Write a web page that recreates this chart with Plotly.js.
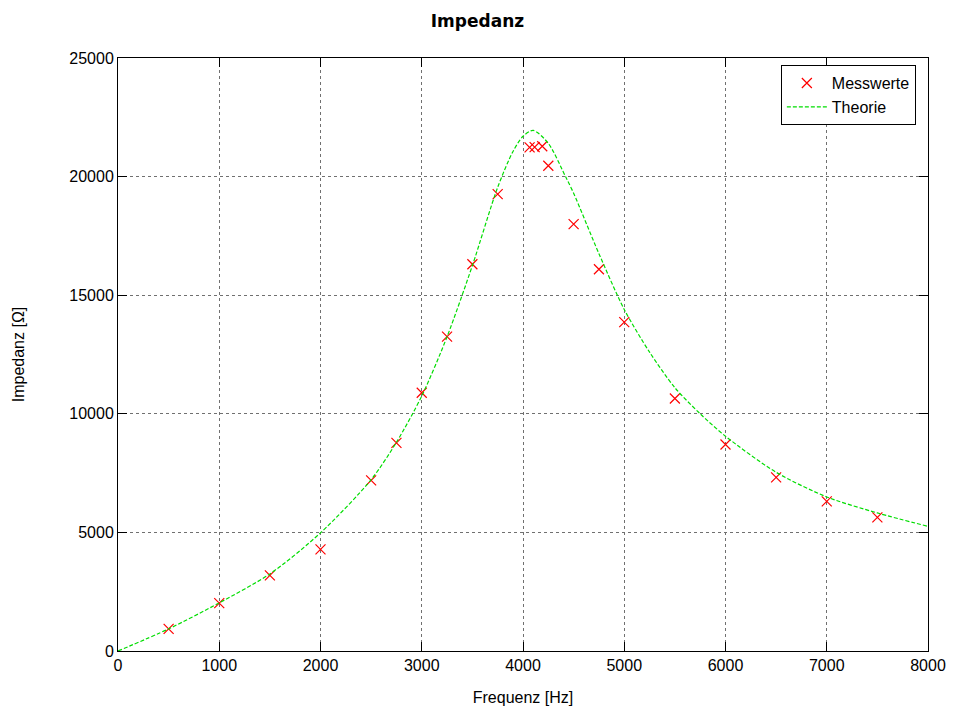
<!DOCTYPE html>
<html>
<head>
<meta charset="utf-8">
<script src="https://cdn.plot.ly/plotly-3.0.1.min.js"></script>
<style>
html,body{margin:0;padding:0;background:#fff;}
#chart{width:955px;height:711px;}
</style>
</head>
<body>
<div id="chart"></div>
<script>
// Measured values (Messwerte)
var measFreq = [500, 1000, 1500, 2000, 2500, 2750, 3000, 3250, 3500, 3750, 4065, 4115, 4190, 4250, 4500, 4750, 5000, 5500, 6000, 6500, 7000, 7500];
var measZ    = [933, 2018, 3190, 4282, 7196, 8775, 10887, 13252, 16305, 19261, 21230, 21240, 21280, 20456, 17994, 16094, 13868, 10646, 8704, 7323, 6309, 5633];

// Theory curve (Theorie)
var theoFreq = [0, 500, 1000, 1500, 2000, 2500, 2750, 3000, 3250, 3500, 3750, 3900, 4000, 4100, 4250, 4420, 4500, 4750, 5000, 5250, 5500, 5750, 6000, 6500, 7000, 7500, 8000];
var theoZ    = [0, 933, 2030, 3250, 4980, 7225, 8800, 10750, 13250, 16250, 19550, 21050, 21700, 21950, 21400, 20000, 19300, 16750, 14400, 12600, 11100, 10000, 9055, 7535, 6495, 5820, 5255];

var xTicks = [0, 1000, 2000, 3000, 4000, 5000, 6000, 7000, 8000];
var yTicks = [0, 5000, 10000, 15000, 20000, 25000];

var traces = [
  {
    x: measFreq, y: measZ, name: 'Messwerte', type: 'scatter', mode: 'markers',
    marker: {symbol: 'x-thin-open', size: 10, color: '#ff0000', line: {color: '#ff0000', width: 1.2}}
  },
  {
    x: theoFreq, y: theoZ, name: 'Theorie', type: 'scatter', mode: 'lines',
    line: {color: '#00dd00', width: 1.2, dash: '4px,2px', shape: 'spline', smoothing: 0.8}
  }
];

var axisCommon = {
  showline: true, linecolor: '#000', linewidth: 1, mirror: 'ticks',
  ticks: 'inside', ticklen: 9, tickcolor: '#000', tickwidth: 1,
  showgrid: true, gridcolor: '#707070', griddash: 'dot', gridwidth: 1,
  zeroline: false, automargin: false,
  tickfont: {family: 'Liberation Sans, Arial, sans-serif', size: 16, color: '#000'}
};

var layout = {
  width: 955, height: 711,
  margin: {l: 118, r: 27, t: 58, b: 60},
  paper_bgcolor: '#fff', plot_bgcolor: '#fff',
  title: {text: '<b>Impedanz</b>', x: 0.5, xanchor: 'center', y: 0.97, yanchor: 'middle',
          font: {family: 'DejaVu Sans, sans-serif', size: 17, color: '#000'}},
  xaxis: Object.assign({}, axisCommon, {
    range: [0, 8000], tickvals: xTicks, ticktext: xTicks.map(String),
    title: {text: 'Frequenz [Hz]', standoff: 18, font: {family: 'Liberation Sans, Arial, sans-serif', size: 16, color: '#000'}}
  }),
  yaxis: Object.assign({}, axisCommon, {
    range: [0, 25000], tickvals: yTicks, ticktext: yTicks.map(String),
    title: {text: 'Impedanz [Ω]', standoff: 40, font: {family: 'Liberation Sans, Arial, sans-serif', size: 16, color: '#000'}}
  }),
  showlegend: true,
  legend: {
    x: 0.985, xanchor: 'right', y: 0.988, yanchor: 'top',
    bgcolor: '#fff', bordercolor: '#000', borderwidth: 1,
    font: {family: 'Liberation Sans, Arial, sans-serif', size: 16, color: '#000'},
    tracegroupgap: 0, itemwidth: 40
  }
};

Plotly.newPlot('chart', traces, layout, {displayModeBar: false, staticPlot: true});
</script>
</body>
</html>
